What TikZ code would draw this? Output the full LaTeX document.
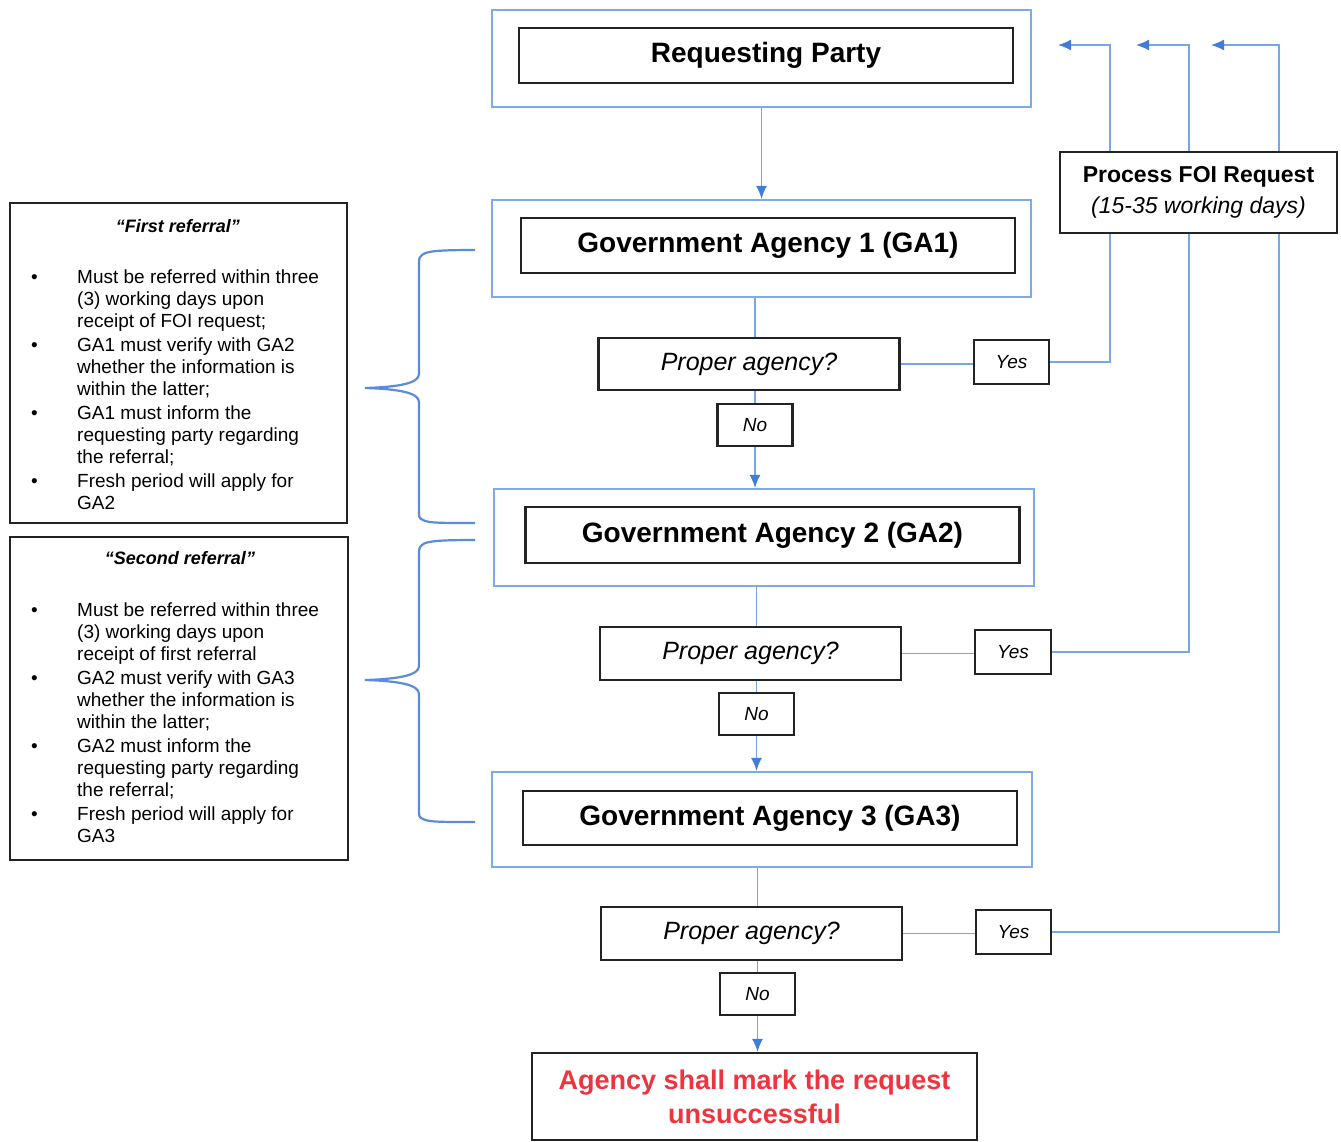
\documentclass[tikz,border=0pt]{standalone}
\usepackage{fontspec}
\setmainfont{Liberation Sans}
\usetikzlibrary{arrows.meta,backgrounds}
\definecolor{boxblue}{RGB}{125,170,232}
\definecolor{lineblue}{RGB}{120,165,228}
\definecolor{tipblue}{RGB}{65,125,215}
\definecolor{bracecol}{RGB}{90,140,220}
\definecolor{redtext}{RGB}{238,52,62}
\definecolor{edge}{RGB}{35,35,35}
\tikzset{
 outerbox/.style={draw=boxblue, line width=2.2pt, fill=white, minimum width=539pt, minimum height=97pt, inner sep=0pt},
 innerbox/.style={draw=edge, line width=2.4pt, fill=white, minimum width=494pt, minimum height=55pt, inner sep=0pt, font=\fontsize{28}{34}\selectfont\bfseries},
 askbox/.style={draw=edge, line width=2.2pt, fill=white, minimum width=301pt, minimum height=52pt, inner sep=0pt, font=\fontsize{25}{30}\selectfont\itshape},
 ansbox/.style={draw=edge, line width=2.2pt, fill=white, minimum width=75pt, minimum height=43pt, inner sep=0pt, font=\fontsize{19}{23}\selectfont\itshape},
 notebox/.style={draw=edge, line width=2pt, fill=white, inner sep=0pt},
 notetitle/.style={font=\fontsize{18}{22}\selectfont\bfseries\itshape, inner sep=0pt},
 notetext/.style={anchor=north west, inner sep=0pt, font=\fontsize{19}{22}\selectfont},
 conn/.style={draw=lineblue, line width=1.5pt},
 arr/.style={conn, -{Latex[length=13pt,width=11pt,color=tipblue]}},
 bracestyle/.style={draw=bracecol, line width=2.2pt},
}
\begin{document}
\begin{tikzpicture}[x=1pt,y=-1pt]
\useasboundingbox (0,0) rectangle (1341,1141);
% main flow
\node[outerbox] (rpO) at (761.5,58.5) {};
\node[innerbox] (rp) at (766,55.5) {Requesting Party};
\node[outerbox] (ga1O) at (761.5,248.5) {};
\node[innerbox] (ga1) at (768,245.5) {Government Agency 1 (GA1)};
\node[askbox] (p1) at (749,364) {Proper agency?};
\node[ansbox, minimum height=44pt] (y1) at (1011.5,362) {Yes};
\node[ansbox, minimum height=42pt] (n1) at (755,425) {No};
\node[outerbox, minimum width=540pt] (ga2O) at (764,537.5) {};
\node[innerbox, minimum height=56pt] (ga2) at (772.5,535) {Government Agency 2 (GA2)};
\node[askbox, minimum height=53pt] (p2) at (750.5,653.5) {Proper agency?};
\node[ansbox, minimum width=76pt, minimum height=44pt] (y2) at (1013,652) {Yes};
\node[ansbox, minimum height=42pt] (n2) at (756.5,714) {No};
\node[outerbox, minimum width=540pt, minimum height=95pt] (ga3O) at (762,819.5) {};
\node[innerbox, minimum height=54pt] (ga3) at (770,818) {Government Agency 3 (GA3)};
\node[askbox, minimum height=53pt] (p3) at (751.5,933.5) {Proper agency?};
\node[ansbox, minimum height=44pt] (y3) at (1013.5,932) {Yes};
\node[ansbox, minimum height=42pt] (n3) at (757.5,994) {No};
\node[draw=edge, line width=2.2pt, fill=white, minimum width=445pt, minimum height=87pt, inner sep=0pt, align=center, text=redtext, font=\fontsize{27}{34}\selectfont\bfseries] (fin) at (754.5,1096.5) {Agency shall mark the request\\unsuccessful};
\node[draw=edge, line width=2.2pt, fill=white, minimum width=277pt, minimum height=81pt, inner sep=0pt, align=center, font=\fontsize{23}{31}\selectfont] (foi) at (1198.5,192.5) {{\bfseries Process FOI Request}\\{\itshape (15-35 working days)}};
% feedback coordinates
\coordinate (k1) at (1110,45); \coordinate (h1) at (1058,45);
\coordinate (k2) at (1189,45); \coordinate (h2) at (1136,45);
\coordinate (k3) at (1279,45); \coordinate (h3) at (1211,45);
% notes
\node[notebox, minimum width=337pt, minimum height=320pt] (box1) at (178.5,363) {};
\node[notetitle] (t1) at (178,226) {“First referral”};
\node[notetext] (l1) at (31,267.5) {\begin{tabular}{@{}p{46pt}@{}l@{}}
\textbullet & Must be referred within three\\
 & (3) working days upon\\
 & receipt of FOI request;\\[2pt]
\textbullet & GA1 must verify with GA2\\
 & whether the information is\\
 & within the latter;\\[2pt]
\textbullet & GA1 must inform the\\
 & requesting party regarding\\
 & the referral;\\[2pt]
\textbullet & Fresh period will apply for\\
 & GA2
\end{tabular}};
\node[notebox, minimum width=338pt, minimum height=323pt] (box2) at (179,698.5) {};
\node[notetitle] (t2) at (180,558) {“Second referral”};
\node[notetext] (l2) at (31,600.5) {\begin{tabular}{@{}p{46pt}@{}l@{}}
\textbullet & Must be referred within three\\
 & (3) working days upon\\
 & receipt of first referral\\[2pt]
\textbullet & GA2 must verify with GA3\\
 & whether the information is\\
 & within the latter;\\[2pt]
\textbullet & GA2 must inform the\\
 & requesting party regarding\\
 & the referral;\\[2pt]
\textbullet & Fresh period will apply for\\
 & GA3
\end{tabular}};
% braces
\draw[bracestyle] (475,250) .. controls (440,250) and (426,251) .. (422,255)
  .. controls (419,258) .. (419,266) -- (419,374)
  .. controls (419,383) and (400,387) .. (365,388)
  .. controls (400,389) and (419,393) .. (419,402) -- (419,511)
  .. controls (419,518) .. (423,520) .. controls (428,523) and (440,523) .. (475,523);
\draw[bracestyle] (475,540) .. controls (440,540) and (426,541) .. (422,545)
  .. controls (419,548) .. (419,556) -- (419,666)
  .. controls (419,675) and (400,679) .. (365,680)
  .. controls (400,681) and (419,685) .. (419,694) -- (419,810)
  .. controls (419,817) .. (423,819) .. controls (428,822) and (440,822) .. (475,822);
% connectors
\begin{pgfonlayer}{background}
\fill[white] (0,0) rectangle (1341,1141);
\draw[arr] (rpO.south) -- (ga1O.north);
\draw[conn] (ga1O.south -| n1) -- (n1.north);
\draw[arr] (n1.south) -- (ga2O.north -| n1);
\draw[conn] (ga2O.south -| n2) -- (n2.north);
\draw[arr] (n2.south) -- (ga3O.north -| n2);
\draw[conn] (ga3O.south -| n3) -- (n3.north);
\draw[arr] (n3.south) -- (fin.north -| n3);
\draw[conn] (p1.east) -- (y1.west |- p1.east);
\draw[conn] (p2.east) -- (y2.west |- p2.east);
\draw[conn] (p3.east) -- (y3.west |- p3.east);
\draw[arr] (y1.east) -| (k1) -- (h1);
\draw[arr] (y2.east) -| (k2) -- (h2);
\draw[arr] (y3.east) -| (k3) -- (h3);
\end{pgfonlayer}
\end{tikzpicture}
\end{document}
